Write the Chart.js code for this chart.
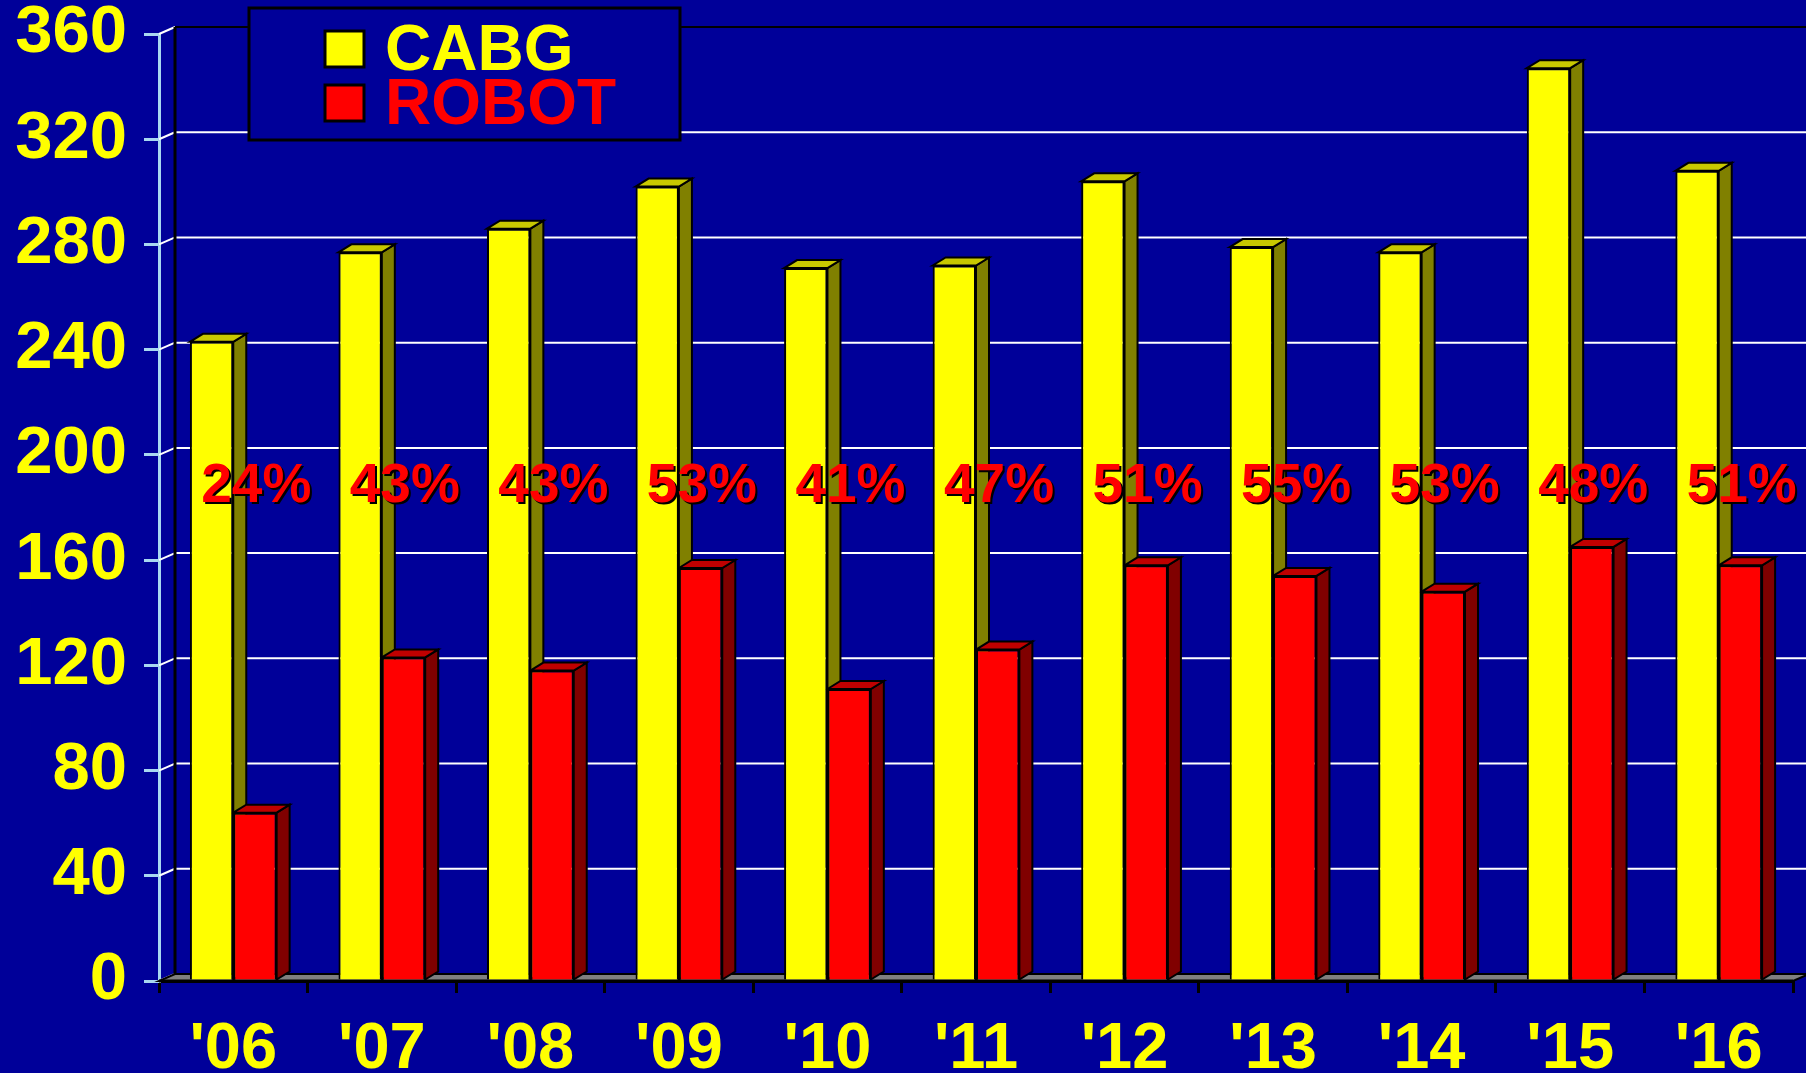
<!DOCTYPE html>
<html>
<head>
<meta charset="utf-8">
<script src="https://cdn.jsdelivr.net/npm/chart.js@4"></script>
<style>
  html, body { margin: 0; padding: 0; background: #000099; }
  #wrap { width: 1806px; height: 1073px; }
</style>
</head>
<body>
<div id="wrap"><canvas id="robotChart" width="1806" height="1073"></canvas></div>
<script>
const years = ["'06", "'07", "'08", "'09", "'10", "'11", "'12", "'13", "'14", "'15", "'16"];
const cabg = [243, 277, 286, 302, 271, 272, 304, 279, 277, 347, 308];
const robot = [64, 123, 118, 157, 111, 126, 158, 154, 148, 165, 158];
const percents = ['24%', '43%', '43%', '53%', '41%', '47%', '51%', '55%', '53%', '48%', '51%'];
const percentLevel = 188;

const FONT = "'Liberation Sans', Arial, sans-serif";
const navy = '#000099';
const depth = { dx: 13, dy: -8 };   // bar depth
const wall = { dx: 16, dy: -7 };    // back wall offset

const sideColors = ['#808000', '#800000'];
const topColors = ['#c8c800', '#c00000'];

window.addEventListener("load", () => {

    const ctxEl = document.getElementById("robotChart")

    const threeD = {
        id: 'threeD',
        beforeDraw(chart) {
            const c = chart.ctx;
            c.save();
            c.fillStyle = navy;
            c.fillRect(0, 0, chart.width, chart.height);
            c.restore();
        },
        beforeDatasetsDraw(chart) {
            const c = chart.ctx;
            const a = chart.chartArea;
            const y = chart.scales.y;
            c.save();
            // back wall grid
            y.ticks.forEach(t => {
                const py = y.getPixelForValue(t.value);
                c.strokeStyle = t.value === 360 ? '#000000' : '#ffffff';
                c.lineWidth = 2;
                c.beginPath();
                c.moveTo(a.left + wall.dx, py + wall.dy);
                c.lineTo(chart.width, py + wall.dy);
                c.stroke();
                c.strokeStyle = '#ffffff';
                c.beginPath();
                c.moveTo(a.left, py);
                c.lineTo(a.left + wall.dx, py + wall.dy);
                c.stroke();
            });
            // back wall left edge
            c.strokeStyle = '#000000';
            c.lineWidth = 3;
            c.beginPath();
            c.moveTo(a.left + wall.dx, a.top + wall.dy);
            c.lineTo(a.left + wall.dx, a.bottom + wall.dy);
            c.stroke();
            // floor
            c.fillStyle = '#808080';
            c.beginPath();
            c.moveTo(a.left, a.bottom);
            c.lineTo(a.right, a.bottom);
            c.lineTo(a.right + wall.dx, a.bottom + wall.dy);
            c.lineTo(a.left + wall.dx, a.bottom + wall.dy);
            c.closePath();
            c.fill();
            c.lineWidth = 2;
            c.stroke();
            c.lineWidth = 3;
            c.beginPath();
            c.moveTo(a.left, a.bottom);
            c.lineTo(a.right, a.bottom);
            c.stroke();

            // legend box
            c.fillStyle = navy;
            c.strokeStyle = '#000000';
            c.lineWidth = 3;
            c.fillRect(249, 8, 431, 132);
            c.strokeRect(249, 8, 431, 132);
            const items = chart.data.datasets;
            items.forEach((ds, i) => {
                const cy = i === 0 ? 49 : 103;
                c.fillStyle = ds.backgroundColor;
                c.fillRect(325, cy - 18, 39, 36);
                c.strokeRect(325, cy - 18, 39, 36);
                c.font = 'bold 64px ' + FONT;
                c.textBaseline = 'middle';
                c.textAlign = 'left';
                c.fillText(ds.label, 385, cy + 3);
            });

            // bar sides and tops
            chart.data.datasets.forEach((ds, di) => {
                const meta = chart.getDatasetMeta(di);
                meta.data.forEach(bar => {
                    const p = bar.getProps(['x', 'y', 'base', 'width'], true);
                    const l = p.x - p.width / 2, r = p.x + p.width / 2;
                    c.lineWidth = 2;
                    c.strokeStyle = '#000000';
                    c.fillStyle = sideColors[di];
                    c.beginPath();
                    c.moveTo(r, p.y);
                    c.lineTo(r + depth.dx, p.y + depth.dy);
                    c.lineTo(r + depth.dx, p.base + depth.dy);
                    c.lineTo(r, p.base);
                    c.closePath();
                    c.fill();
                    c.stroke();
                    c.fillStyle = topColors[di];
                    c.beginPath();
                    c.moveTo(l, p.y);
                    c.lineTo(l + depth.dx, p.y + depth.dy);
                    c.lineTo(r + depth.dx, p.y + depth.dy);
                    c.lineTo(r, p.y);
                    c.closePath();
                    c.fill();
                    c.stroke();
                });
            });
            c.restore();
        },
        afterDatasetsDraw(chart) {
            const c = chart.ctx;
            const x = chart.scales.x;
            const y = chart.scales.y;
            c.save();
            c.font = 'bold 55px ' + FONT;
            c.textAlign = 'center';
            c.textBaseline = 'middle';
            percents.forEach((txt, i) => {
                const px = x.getPixelForValue(i) + 23;
                const py = y.getPixelForValue(percentLevel);
                c.fillStyle = '#000000';
                c.fillText(txt, px + 2, py + 2);
                c.fillStyle = '#ff0000';
                c.fillText(txt, px, py);
            });
            c.restore();
        }
    };

    new Chart(ctxEl, {
        type: 'bar',
        data: {
            labels: years,
            datasets: [{
                label: 'CABG',
                data: cabg,
                backgroundColor: '#ffff00',
                borderColor: '#000000',
                borderWidth: 2
            }, {
                label: 'ROBOT',
                data: robot,
                backgroundColor: '#ff0000',
                borderColor: '#000000',
                borderWidth: 2
            }]
        },
        options: {
            responsive: false,
            animation: false,
            layout: {
                padding: { top: 34, right: 13, left: 0, bottom: 0 }
            },
            datasets: {
                bar: {
                    categoryPercentage: 0.584,
                    barPercentage: 1.0
                }
            },
            scales: {
                x: {
                    afterFit: s => { s.height = 92; s.paddingLeft = 0; s.paddingRight = 0; },
                    grid: {
                        offset: true,
                        drawOnChartArea: false,
                        drawTicks: true,
                        tickLength: 12,
                        color: '#000000',
                        lineWidth: 3
                    },
                    border: { color: '#000000', width: 3 },
                    ticks: {
                        color: '#ffff00',
                        padding: 18,
                        font: { family: FONT, size: 65, weight: 'bold' }
                    }
                },
                y: {
                    min: 0,
                    max: 360,
                    afterFit: s => { s.width = 159; s.paddingTop = 0; s.paddingBottom = 0; },
                    grid: {
                        drawOnChartArea: false,
                        drawTicks: true,
                        tickLength: 15,
                        color: '#a8d8f0',
                        lineWidth: 3
                    },
                    border: { color: '#a8d8f0', width: 3 },
                    ticks: {
                        stepSize: 40,
                        color: '#ffff00',
                        padding: 17,
                        font: { family: FONT, size: 67, weight: 'bold' }
                    }
                }
            },
            plugins: {
                legend: { display: false },
                tooltip: { enabled: false }
            }
        },
        plugins: [threeD]
    });

});
</script>
</body>
</html>
